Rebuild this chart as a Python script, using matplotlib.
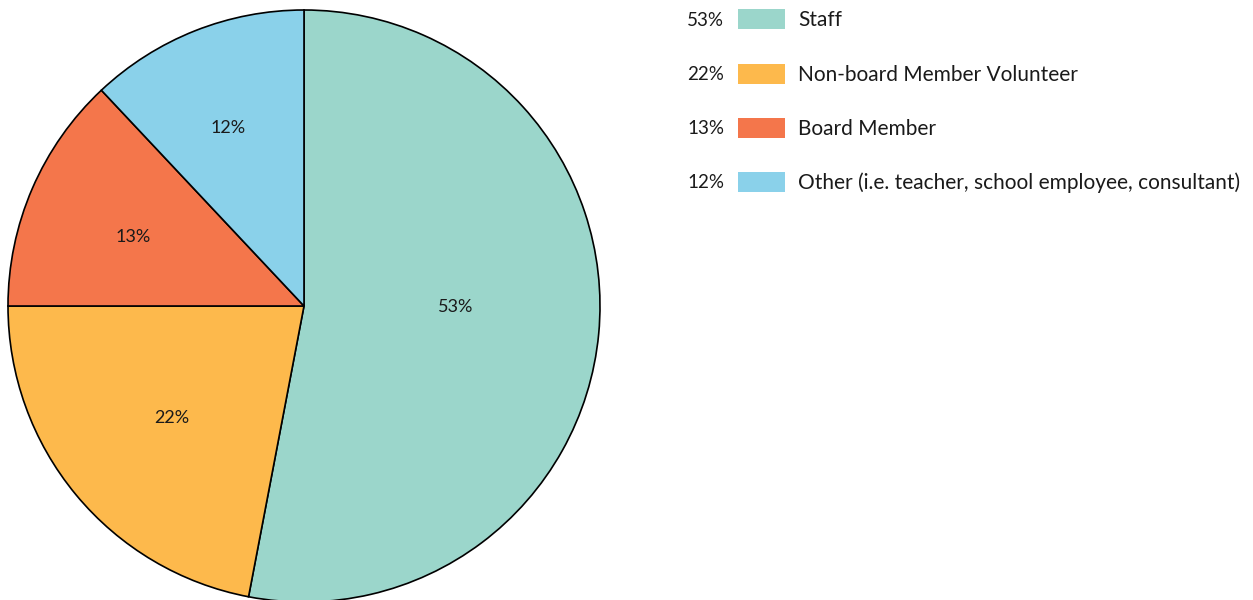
import matplotlib.pyplot as plt
from matplotlib.patches import Rectangle

plt.rcParams['font.family'] = ['Lato', 'DejaVu Sans']

categories = ["Staff", "Non-board Member Volunteer", "Board Member",
              "Other (i.e. teacher, school employee, consultant)"]
shares = [53, 22, 13, 12]
colors = ["#9BD6CB", "#FDB94C", "#F4764B", "#8AD1EA"]
# label spots inside the pie, in units of the radius
label_pos = [(0.514, -0.003), (-0.446, -0.378), (-0.578, 0.233), (-0.257, 0.601)]

W, H = 1253, 600
fig = plt.figure(figsize=(W / 100, H / 100), dpi=100)

# pie: center (304, 306) px from top, radius 296 px
cx, cy, r = 304, 306, 296
ax = fig.add_axes([(cx - r) / W, (H - cy - r) / H, 2 * r / W, 2 * r / H])
wedges, _ = ax.pie(shares, colors=colors, startangle=90, counterclock=False,
                   wedgeprops=dict(edgecolor='black', linewidth=1.2))
for (x, y), v in zip(label_pos, shares):
    ax.text(x, y, f"{v}%", ha='center', va='center', fontsize=13, color='#1a1a1a')
ax.set_xlim(-1, 1)
ax.set_ylim(-1, 1)
ax.set_aspect('equal')
ax.axis('off')

# legend in pixel coords
lg = fig.add_axes([0, 0, 1, 1], zorder=-1)
lg.set_xlim(0, W)
lg.set_ylim(H, 0)
lg.axis('off')
row_y = [19, 74, 128, 182]
for y, v, c, name in zip(row_y, shares, colors, categories):
    lg.text(724, y + 1, f"{v}%", ha='right', va='center', fontsize=13.5, color='#1a1a1a')
    lg.add_patch(Rectangle((738, y - 10), 47, 20, color=c, lw=0))
    lg.text(798, y + 1, name, ha='left', va='center', fontsize=15, color='#1a1a1a')

fig.savefig('out.png', dpi=100)
